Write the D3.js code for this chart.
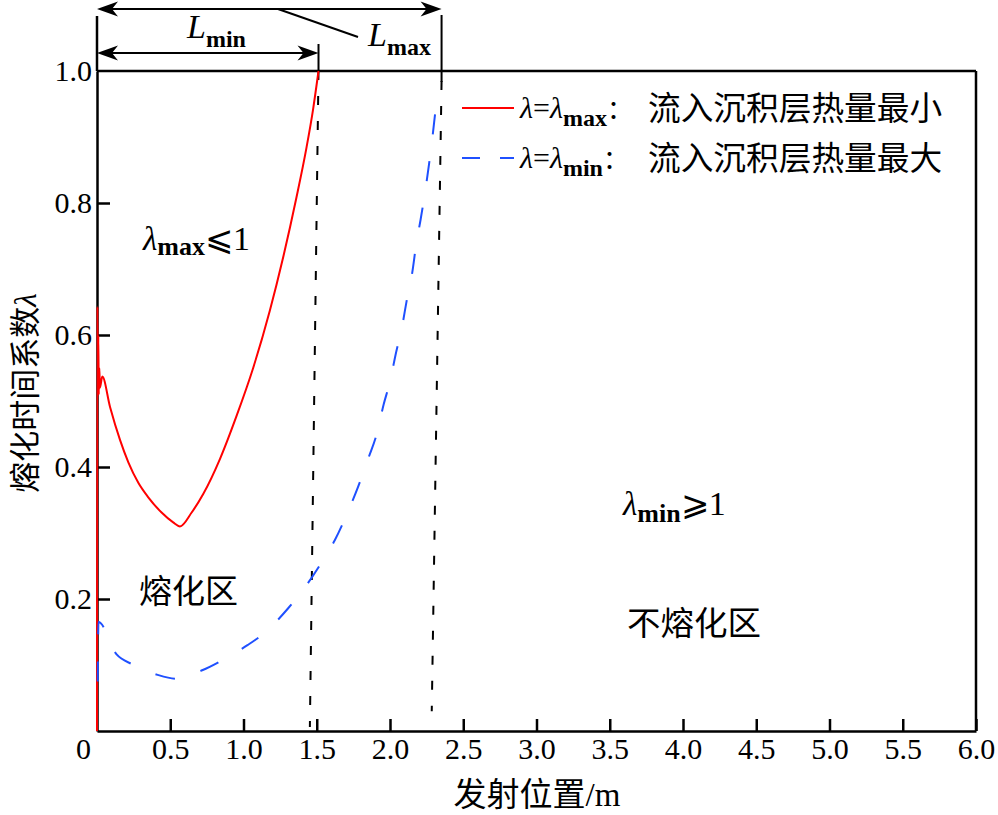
<!DOCTYPE html>
<html><head><meta charset="utf-8">
<script src="https://cdn.jsdelivr.net/npm/d3@7/dist/d3.min.js"></script>
<style>
html,body{margin:0;padding:0;background:#fff;}
svg{display:block;}
.lat{font-family:"Liberation Serif","Times New Roman",serif;}
.cjk{font-family:"Noto Sans CJK SC","Noto Sans CJK JP",sans-serif;}
</style></head>
<body>
<svg id="chart" width="998" height="815"></svg>
<script>
// ---------------- data ----------------
const xTicks = [0, 0.5, 1.0, 1.5, 2.0, 2.5, 3.0, 3.5, 4.0, 4.5, 5.0, 5.5, 6.0];
const xTickLabels = ["0", "0.5", "1.0", "1.5", "2.0", "2.5", "3.0", "3.5", "4.0", "4.5", "5.0", "5.5", "6.0"];
const yTicks = [0.2, 0.4, 0.6, 0.8, 1.0];
const yTickLabels = ["0.2", "0.4", "0.6", "0.8", "1.0"];

// λ = λmax (red, solid)
const redX = [0, 0.003, 0.006, 0.009, 0.012, 0.016, 0.020, 0.036, 0.089, 0.157, 0.214, 0.282, 0.350, 0.441, 0.520, 0.566, 0.646, 0.725, 0.839, 0.952, 1.066, 1.180, 1.270, 1.361, 1.430, 1.475, 1.512];
const redY = [0, 0.643, 0.520, 0.600, 0.510, 0.550, 0.520, 0.537, 0.491, 0.441, 0.407, 0.376, 0.354, 0.331, 0.316, 0.310, 0.331, 0.359, 0.412, 0.477, 0.550, 0.637, 0.717, 0.808, 0.884, 0.942, 1.000];

// λ = λmin (blue, dashed)
const blueX = [0.005, 0.010, 0.134, 0.241, 0.414, 0.548, 0.718, 0.861, 1.027, 1.150, 1.305, 1.414, 1.543, 1.623, 1.720, 1.782, 1.855, 1.907, 1.957, 1.998, 2.043, 2.080, 2.118, 2.150, 2.180, 2.209, 2.243, 2.266, 2.293, 2.311, 2.325];
const blueY = [0.075, 0.165, 0.116, 0.101, 0.085, 0.079, 0.092, 0.108, 0.130, 0.150, 0.186, 0.216, 0.259, 0.289, 0.336, 0.370, 0.415, 0.448, 0.495, 0.528, 0.575, 0.610, 0.657, 0.692, 0.739, 0.775, 0.822, 0.858, 0.906, 0.941, 0.965];

// boundary lines (Lmin, Lmax): [xTop, yTop, xBottom, yBottom]
const lminLine = [1.512, 1.0, 1.453, 0.006];
const lmaxLine = [2.352, 0.985, 2.285, 0.03];

const legendMath = [["λ", "=", "λ", "max"], ["λ", "=", "λ", "min"]];
const legendText = ["流入沉积层热量最小", "流入沉积层热量最大"];
const xTitle = ["发射位置", "/m"];
const yTitle = ["熔化时间系数", "λ"];

// ---------------- layout ----------------
const svg = d3.select("#chart");
const m = {left: 97, right: 976, top: 71, bottom: 731};
const x = d3.scaleLinear().domain([0, 6]).range([m.left, m.right]);
const y = d3.scaleLinear().domain([0, 1]).range([m.bottom, m.top]);

const AX = 2.5;

// frame (top and right)
svg.append("line").attr("x1", m.left).attr("x2", m.right).attr("y1", m.top).attr("y2", m.top)
  .attr("stroke", "#000").attr("stroke-width", AX);
svg.append("line").attr("x1", m.right).attr("x2", m.right).attr("y1", m.top).attr("y2", m.bottom)
  .attr("stroke", "#000").attr("stroke-width", AX);

// x axis
const xAxis = d3.axisBottom(x).tickValues(xTicks)
  .tickFormat((d, i) => xTickLabels[i]).tickSizeInner(-12).tickSizeOuter(0).tickPadding(7);
const gx = svg.append("g").attr("transform", `translate(0,${m.bottom})`).call(xAxis);
gx.attr("font-family", null).attr("font-size", null);
gx.select(".domain").attr("stroke-width", AX);
gx.selectAll(".tick line").attr("stroke-width", AX);
gx.selectAll(".tick text").attr("class", "lat").attr("font-size", 30).attr("fill", "#000")
  .attr("dy", "0.71em");
gx.selectAll(".tick").filter(d => d === 0).select("text").attr("x", -14);
gx.selectAll(".tick").filter(d => d === 0).select("line").remove();

// y axis
const yAxis = d3.axisLeft(y).tickValues(yTicks)
  .tickFormat((d, i) => yTickLabels[i]).tickSizeInner(-13).tickSizeOuter(0).tickPadding(5);
const gy = svg.append("g").attr("transform", `translate(${m.left},0)`).call(yAxis);
gy.attr("font-family", null).attr("font-size", null);
gy.select(".domain").attr("stroke-width", AX);
gy.selectAll(".tick line").attr("stroke-width", AX);
gy.selectAll(".tick text").attr("class", "lat").attr("font-size", 30).attr("fill", "#000");
gy.selectAll(".tick").filter(d => d === 1.0).select("line").remove();

// boundary dashed lines
[lminLine, lmaxLine].forEach(l => {
  svg.append("line")
    .attr("x1", x(l[0])).attr("y1", y(l[1]))
    .attr("x2", x(l[2])).attr("y2", y(l[3]))
    .attr("stroke", "#000").attr("stroke-width", 2).attr("stroke-dasharray", "9,16");
});

// curves
const lineGen = d3.line().x(d => x(d[0])).y(d => y(d[1])).curve(d3.curveMonotoneX);
svg.append("path").datum(redX.map((v, i) => [v, redY[i]]))
  .attr("d", lineGen).attr("fill", "none").attr("stroke", "#ff0000").attr("stroke-width", 2);
svg.append("path").datum(blueX.map((v, i) => [v, blueY[i]]))
  .attr("d", lineGen).attr("fill", "none").attr("stroke", "#1f50ff").attr("stroke-width", 2)
  .attr("stroke-dasharray", "20,27");

// ---------------- top annotation ----------------
function arrowHead(xt, yy, dir) {
  const L = 21, H = 7.5, N = 15;
  const p = [[xt, yy], [xt - dir * L, yy - H], [xt - dir * N, yy], [xt - dir * L, yy + H]];
  svg.append("path").attr("d", "M" + p.map(q => q.join(",")).join("L") + "Z").attr("fill", "#000");
}
function dimArrow(xa, xb, yy) {
  svg.append("line").attr("x1", xa + 4).attr("x2", xb - 4).attr("y1", yy).attr("y2", yy)
    .attr("stroke", "#000").attr("stroke-width", 2);
  arrowHead(xa, yy, -1);
  arrowHead(xb, yy, 1);
}
const xl0 = x(0), xl1 = x(lminLine[0]), xl2 = x(lmaxLine[0]);
svg.append("line").attr("x1", xl0).attr("x2", xl0).attr("y1", 16).attr("y2", m.top)
  .attr("stroke", "#000").attr("stroke-width", AX);
svg.append("line").attr("x1", xl1).attr("x2", xl1).attr("y1", 44).attr("y2", m.top)
  .attr("stroke", "#000").attr("stroke-width", 2);
svg.append("line").attr("x1", xl2).attr("x2", xl2).attr("y1", 15).attr("y2", 82)
  .attr("stroke", "#000").attr("stroke-width", 2);
dimArrow(xl0, xl2, 9);
dimArrow(xl0, xl1, 53);
svg.append("line").attr("x1", 278).attr("y1", 9).attr("x2", 358).attr("y2", 37)
  .attr("stroke", "#000").attr("stroke-width", 2);

function subLabel(px, py, main, sub, size, subSize, shift) {
  const t = svg.append("text").attr("class", "lat").attr("x", px).attr("y", py)
    .attr("font-size", size).attr("fill", "#000");
  t.append("tspan").text(main).attr("font-style", "italic");
  t.append("tspan").text(sub).attr("font-size", subSize).attr("font-weight", "bold").attr("dy", shift);
  return t;
}
subLabel(187, 38, "L", "min", 34, 24, 9);
subLabel(368, 46, "L", "max", 34, 24, 9);

// ---------------- legend ----------------
const legY = [108, 158];
svg.append("line").attr("x1", 462).attr("x2", 514).attr("y1", legY[0]).attr("y2", legY[0])
  .attr("stroke", "#ff0000").attr("stroke-width", 2);
svg.append("line").attr("x1", 462).attr("x2", 514).attr("y1", legY[1]).attr("y2", legY[1])
  .attr("stroke", "#1f50ff").attr("stroke-width", 2).attr("stroke-dasharray", "18,20");
legendMath.forEach((lm, i) => {
  const t = svg.append("text").attr("class", "lat").attr("x", 520).attr("y", legY[i] + 10)
    .attr("font-size", 30).attr("fill", "#000");
  t.append("tspan").text(lm[0]).attr("font-style", "italic");
  t.append("tspan").text(lm[1]);
  t.append("tspan").text(lm[2]).attr("font-style", "italic");
  t.append("tspan").text(lm[3]).attr("font-size", 24).attr("font-weight", "bold").attr("dy", 8);
  t.append("tspan").text("：").attr("class", "cjk").attr("font-size", 26).attr("dy", -7);
  svg.append("text").attr("class", "cjk").attr("x", 648).attr("y", legY[i] + 12)
    .attr("font-size", 32.7).text(legendText[i]);
});

// ---------------- region labels ----------------
const r1 = subLabel(143, 250, "λ", "max", 33, 26, 5);
r1.append("tspan").text("⩽1").attr("dy", -5).attr("font-size", 34);
const r2 = subLabel(623, 515, "λ", "min", 33, 26, 7);
r2.append("tspan").text("⩾1").attr("dy", -7).attr("font-size", 34);
svg.append("text").attr("class", "cjk").attr("x", 139).attr("y", 603).attr("font-size", 33).text("熔化区");
svg.append("text").attr("class", "cjk").attr("x", 627).attr("y", 635).attr("font-size", 33.5).text("不熔化区");

// ---------------- axis titles ----------------
const xt = svg.append("text").attr("x", 537).attr("y", 806).attr("text-anchor", "middle").attr("font-size", 33);
xt.append("tspan").attr("class", "cjk").text(xTitle[0]);
xt.append("tspan").attr("class", "lat").text(xTitle[1]);
const yt = svg.append("text").attr("transform", "translate(36,393) rotate(-90)")
  .attr("text-anchor", "middle").attr("font-size", 31);
yt.append("tspan").attr("class", "cjk").text(yTitle[0]);
yt.append("tspan").attr("class", "lat").attr("font-style", "italic").text(yTitle[1]);
</script>
</body></html>
